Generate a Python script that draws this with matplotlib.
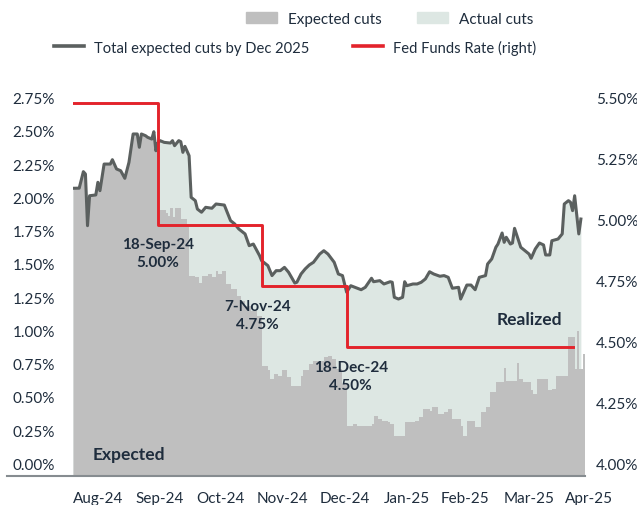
import numpy as np
import pandas as pd
import matplotlib
matplotlib.use("Agg")
import matplotlib.pyplot as plt
from matplotlib.lines import Line2D
from matplotlib.patches import Patch

plt.rcParams["font.family"] = ["Lato", "DejaVu Sans"]

GRAY, MINT, LINE, RED, INK = "#bfbfbf", "#dde7e3", "#5b605f", "#e3232b", "#1f2d3d"

# total expected cuts by Dec 2025 (%, left axis)
total_dates = [
    "2024-08-08", "2024-08-11", "2024-08-13", "2024-08-14", "2024-08-15", "2024-08-16",
    "2024-08-19", "2024-08-20", "2024-08-21", "2024-08-23", "2024-08-26", "2024-08-27",
    "2024-08-29", "2024-08-31", "2024-09-02", "2024-09-04", "2024-09-06", "2024-09-08",
    "2024-09-09", "2024-09-10", "2024-09-12", "2024-09-13", "2024-09-15", "2024-09-16",
    "2024-09-17", "2024-09-18", "2024-09-19", "2024-09-21", "2024-09-24", "2024-09-25",
    "2024-09-26", "2024-09-28", "2024-09-29", "2024-09-30", "2024-10-01", "2024-10-03",
    "2024-10-04", "2024-10-06", "2024-10-07", "2024-10-09", "2024-10-11", "2024-10-14",
    "2024-10-16", "2024-10-20", "2024-10-23", "2024-10-25", "2024-10-27", "2024-10-30",
    "2024-11-01", "2024-11-03", "2024-11-06", "2024-11-07", "2024-11-10", "2024-11-12",
    "2024-11-14", "2024-11-16", "2024-11-18", "2024-11-20", "2024-11-23", "2024-11-24",
    "2024-11-26", "2024-11-28", "2024-11-30", "2024-12-02", "2024-12-05", "2024-12-07",
    "2024-12-09", "2024-12-12", "2024-12-14", "2024-12-16", "2024-12-18", "2024-12-20",
    "2024-12-22", "2024-12-25", "2024-12-27", "2024-12-30", "2024-12-31", "2025-01-03",
    "2025-01-05", "2025-01-08", "2025-01-09", "2025-01-10", "2025-01-12", "2025-01-14",
    "2025-01-15", "2025-01-16", "2025-01-19", "2025-01-21", "2025-01-23", "2025-01-25",
    "2025-01-27", "2025-01-29", "2025-02-01", "2025-02-03", "2025-02-05", "2025-02-07",
    "2025-02-10", "2025-02-11", "2025-02-14", "2025-02-16", "2025-02-18", "2025-02-20",
    "2025-02-23", "2025-02-24", "2025-02-26", "2025-02-28", "2025-03-01", "2025-03-03",
    "2025-03-04", "2025-03-05", "2025-03-07", "2025-03-08", "2025-03-09", "2025-03-11",
    "2025-03-12", "2025-03-14", "2025-03-16", "2025-03-17", "2025-03-19", "2025-03-21",
    "2025-03-23", "2025-03-24", "2025-03-26", "2025-03-27", "2025-03-30", "2025-04-01",
    "2025-04-02", "2025-04-04", "2025-04-05", "2025-04-06", "2025-04-07", "2025-04-09",
    "2025-04-10",
]
total_cuts = [
    2.109, 2.110, 2.234, 2.216, 1.828, 2.053,
    2.059, 2.154, 2.091, 2.291, 2.291, 2.324,
    2.254, 2.241, 2.184, 2.304, 2.517, 2.517,
    2.417, 2.517, 2.504, 2.492, 2.479, 2.534,
    2.391, 2.450, 2.467, 2.454, 2.449, 2.467,
    2.429, 2.467, 2.459, 2.379, 2.424, 2.354,
    2.041, 2.016, 1.953, 1.929, 1.966, 1.959,
    1.991, 1.983, 1.866, 1.841, 1.803, 1.766,
    1.678, 1.690, 1.603, 1.565, 1.528, 1.453,
    1.490, 1.490, 1.515, 1.478, 1.397, 1.403,
    1.465, 1.503, 1.533, 1.553, 1.615, 1.640,
    1.615, 1.553, 1.465, 1.453, 1.328, 1.377,
    1.365, 1.347, 1.365, 1.433, 1.407, 1.415,
    1.390, 1.407, 1.403, 1.290, 1.277, 1.290,
    1.407, 1.377, 1.390, 1.390, 1.403, 1.428,
    1.482, 1.465, 1.448, 1.453, 1.440, 1.358,
    1.365, 1.277, 1.382, 1.382, 1.347, 1.440,
    1.453, 1.540, 1.578, 1.666, 1.690, 1.773,
    1.703, 1.741, 1.690, 1.698, 1.808, 1.715,
    1.666, 1.640, 1.615, 1.583, 1.653, 1.698,
    1.683, 1.608, 1.608, 1.715, 1.728, 1.766,
    1.991, 2.016, 2.004, 1.941, 2.053, 1.766,
    1.878,
]

# still-expected cuts after the first cut (before it, all cuts are expected)
exp_dates = [
    "2024-09-18", "2024-09-22", "2024-09-23", "2024-09-24", "2024-09-25", "2024-09-26",
    "2024-09-29", "2024-10-02", "2024-10-03", "2024-10-06", "2024-10-08", "2024-10-09",
    "2024-10-12", "2024-10-14", "2024-10-16", "2024-10-17", "2024-10-19", "2024-10-21",
    "2024-10-23", "2024-10-26", "2024-10-28", "2024-10-30", "2024-11-02", "2024-11-05",
    "2024-11-07", "2024-11-10", "2024-11-11", "2024-11-13", "2024-11-15", "2024-11-17",
    "2024-11-19", "2024-11-21", "2024-11-26", "2024-11-27", "2024-11-30", "2024-12-02",
    "2024-12-07", "2024-12-09", "2024-12-11", "2024-12-13", "2024-12-16", "2024-12-18",
    "2024-12-21", "2024-12-23", "2024-12-30", "2024-12-31", "2025-01-02", "2025-01-04",
    "2025-01-07", "2025-01-08", "2025-01-10", "2025-01-15", "2025-01-20", "2025-01-22",
    "2025-01-24", "2025-01-27", "2025-01-28", "2025-01-31", "2025-02-03", "2025-02-05",
    "2025-02-07", "2025-02-11", "2025-02-12", "2025-02-14", "2025-02-18", "2025-02-21",
    "2025-02-23", "2025-02-25", "2025-02-28", "2025-03-04", "2025-03-05", "2025-03-10",
    "2025-03-11", "2025-03-13", "2025-03-17", "2025-03-18", "2025-03-20", "2025-03-25",
    "2025-03-27", "2025-03-29", "2025-04-04", "2025-04-07", "2025-04-08", "2025-04-09",
    "2025-04-11", "2025-04-12",
]
exp_cuts = [
    1.948, 1.927, 1.903, 1.958, 1.890, 1.958,
    1.878, 1.828, 1.452, 1.440, 1.400, 1.452,
    1.465, 1.440, 1.490, 1.465, 1.490, 1.390,
    1.353, 1.303, 1.260, 1.227, 1.190, 1.152,
    0.776, 0.740, 0.676, 0.714, 0.700, 0.740,
    0.689, 0.626, 0.700, 0.740, 0.789, 0.814,
    0.839, 0.850, 0.830, 0.750, 0.640, 0.325,
    0.338, 0.320, 0.338, 0.400, 0.375, 0.363,
    0.350, 0.338, 0.250, 0.350, 0.363, 0.388,
    0.450, 0.438, 0.463, 0.413, 0.425, 0.450,
    0.375, 0.325, 0.250, 0.363, 0.313, 0.426,
    0.464, 0.576, 0.651, 0.755, 0.664, 0.800,
    0.676, 0.651, 0.590, 0.563, 0.676, 0.590,
    0.601, 0.700, 0.989, 0.751, 1.040, 0.751,
    0.864, 0.864,
]

fed_dates = ["2024-08-08", "2024-09-18", "2024-11-07", "2024-12-18", "2025-04-06"]
fed_rate = [5.50, 5.00, 4.75, 4.50, 4.50]

months = ["Aug-24", "Sep-24", "Oct-24", "Nov-24", "Dec-24", "Jan-25", "Feb-25", "Mar-25", "Apr-25"]
month_at = ["2024-08-20", "2024-09-19", "2024-10-18", "2024-11-17", "2024-12-17",
            "2025-01-16", "2025-02-13", "2025-03-16", "2025-04-14"]

td = pd.to_datetime(total_dates)
tv = np.array(total_cuts)
ed = pd.to_datetime(exp_dates)
fd = pd.to_datetime(fed_dates)

fig = plt.figure(figsize=(6.37, 5.06), dpi=100)
ax = fig.add_axes([0.1146, 0.0583, 0.8038, 0.7737])
ax2 = ax.twinx()

lo, hi = -0.049, 2.8925
ax.set_ylim(lo, hi)
ax2.set_ylim(4 + lo * 6 / 11, 4 + hi * 6 / 11)
ax.set_xlim(pd.Timestamp("2024-08-08"), pd.Timestamp("2025-04-12"))

# areas: actual (mint) under the total line, expected (gray) on top of it
ax.fill_between(td, lo, tv, color=MINT, lw=0, zorder=1)
pre = td <= fd[1]
ax.fill_between(td[pre], lo, tv[pre], color=GRAY, lw=0, zorder=2)
ax.fill_between(ed, lo, exp_cuts, step="post", color=GRAY, lw=0, zorder=2)
ax.plot(td, tv, color=LINE, lw=2.2, zorder=3)

ax2.plot(fd, fed_rate, color=RED, lw=2.1, drawstyle="steps-post")

lt = np.arange(0, 2.76, 0.25)
rt = np.arange(4.0, 5.51, 0.25)
ax.set_yticks(lt)
ax.set_yticklabels([f"{v:.2f}%" for v in lt], va="baseline")
ax2.set_yticks(rt)
ax2.set_yticklabels([f"{v:.2f}%" for v in rt], va="baseline")
ax.tick_params(axis="y", length=0, pad=13, labelsize=11, colors=INK)
ax2.tick_params(axis="y", length=0, pad=8, labelsize=11, colors=INK)
ax.set_xticks([])
for a in (ax, ax2):
    for sp in a.spines.values():
        sp.set_visible(False)

for lbl, d in zip(months, month_at):
    ax.text(pd.Timestamp(d), -0.058, lbl, transform=ax.get_xaxis_transform(),
            ha="center", va="center", fontsize=11, color=INK, clip_on=False)

fig.add_artist(Line2D([7 / 637, 585 / 637], [0.0583, 0.0583], color="#868c90", lw=1.5))

# cut annotations
kw = dict(ha="center", va="center", fontsize=11, fontweight="bold", color=INK, linespacing=1.35)
ax.text(pd.Timestamp("2024-09-18"), 1.62, "18-Sep-24\n5.00%", **kw)
ax.text(pd.Timestamp("2024-11-05"), 1.16, "7-Nov-24\n4.75%", **kw)
ax.text(pd.Timestamp("2024-12-20"), 0.70, "18-Dec-24\n4.50%", **kw)
ax.text(pd.Timestamp("2025-03-16"), 1.13, "Realized", ha="center", va="center",
        fontsize=12.5, fontweight="bold", color=INK)
ax.text(pd.Timestamp("2024-09-04"), 0.11, "Expected", ha="center", va="center",
        fontsize=12.5, fontweight="bold", color=INK)

leg_kw = dict(loc="center left", ncol=2, frameon=False, borderpad=0, borderaxespad=0,
              handlelength=2.05, handletextpad=0.7, labelcolor=INK)
fig.legend(handles=[Patch(color=GRAY, label="Expected cuts"),
                    Patch(color=MINT, label="Actual cuts")],
           bbox_to_anchor=(246 / 637, 1 - 20 / 506), columnspacing=2.3, fontsize=11, **leg_kw)
fig.legend(handles=[Line2D([], [], color=LINE, lw=2.6, label="Total expected cuts by Dec 2025"),
                    Line2D([], [], color=RED, lw=2.6, label="Fed Funds Rate (right)")],
           bbox_to_anchor=(54 / 637, 1 - 48 / 506), columnspacing=2.9, fontsize=10.6, **leg_kw)

fig.savefig("out.png", dpi=100)
